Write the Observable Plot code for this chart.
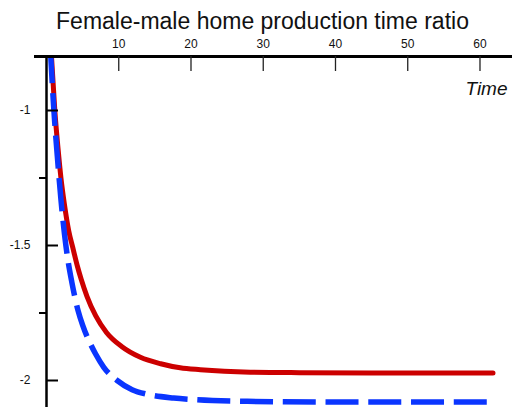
<!DOCTYPE html>
<html>
<head>
<meta charset="utf-8">
<script src="https://cdn.jsdelivr.net/npm/d3@7"></script>
<script src="https://cdn.jsdelivr.net/npm/@observablehq/plot@0.6"></script>
<style>
  html, body { margin: 0; padding: 0; background: white; }
  #title {
    width: 512px; height: 36px; box-sizing: border-box;
    padding-top: 10px; padding-left: 13px;
    font: 23px "Liberation Sans", Arial, sans-serif; line-height: 23px;
    text-align: center; color: #111; white-space: nowrap;
  }
  #chart svg { display: block; }
</style>
</head>
<body>
<div id="title"></div>
<div id="chart"></div>
<script>
// ---- data ----
const titleText = "Female-male home production time ratio";
const xLabel = "Time";
const xTicks = [10, 20, 30, 40, 50, 60];
const yMajorTicks = [-1, -1.5, -2];
const yMinorTicks = [-1.25, -1.75];
const xDomain = [0, 64.5];
const yDomain = [-2.1, -0.8];

const tRed = [0, 0.7, 1.15, 1.6, 2.0, 2.5, 3.08, 3.64, 4.25, 4.8, 5.6, 6.8, 8.3, 10.4, 13.0, 15.8, 18.5, 21.3, 28.2, 35, 45, 61.8];
const vRed = [-0.38, -0.804, -1.0, -1.142, -1.25, -1.351, -1.446, -1.508, -1.574, -1.625, -1.688, -1.760, -1.822, -1.874, -1.914, -1.938, -1.953, -1.960, -1.969, -1.971, -1.972, -1.972];

const tBlue = [0, 0.6, 1.0, 1.5, 2.0, 2.5, 3.0, 3.5, 4.38, 5.0, 6.0, 6.78, 7.93, 9.78, 11.85, 13.93, 17.6, 20.8, 27.8, 39.7, 61.8];
const vBlue = [-0.46, -0.804, -0.99, -1.17, -1.33, -1.46, -1.56, -1.635, -1.742, -1.795, -1.86, -1.901, -1.951, -2.0, -2.034, -2.051, -2.065, -2.071, -2.077, -2.080, -2.080];

document.getElementById("title").textContent = titleText;

const redRows = tRed.map((t, i) => ({t, v: vRed[i]}));
const blueRows = tBlue.map((t, i) => ({t, v: vBlue[i]}));

const W = 512, H = 374;
const mTop = 20, mBottom = 3, mLeft = 46, mRight = 0;
const frameW = W - mLeft - mRight;
const frameH = H - mTop - mBottom;

const chart = Plot.plot({
  width: W,
  height: H,
  marginTop: mTop,
  marginBottom: mBottom,
  marginLeft: mLeft,
  marginRight: mRight,
  style: {fontFamily: '"Liberation Sans", Arial, sans-serif', background: "white", color: "#111"},
  x: {domain: xDomain, axis: null},
  y: {domain: yDomain, axis: null},
  marks: [
    // data lines
    Plot.line(redRows, {x: "t", y: "v", stroke: "#cc0000", strokeWidth: 5, curve: "monotone-x", clip: true}),
    Plot.line(blueRows, {x: "t", y: "v", stroke: "#0a35ff", strokeWidth: 5.5, strokeDasharray: "33,9.75", strokeLinecap: "butt", curve: "monotone-x", clip: true}),
    // y axis line
    Plot.ruleX([xDomain[0]], {stroke: "#000", strokeWidth: 2.5}),
    // x axis line (top)
    Plot.ruleY([yDomain[1]], {stroke: "#000", strokeWidth: 3, insetLeft: -12}),
    // x ticks pointing down into the plot
    Plot.ruleX(xTicks, {stroke: "#222", strokeWidth: 1.3, insetBottom: frameH - 15}),
    // y major ticks pointing inward
    Plot.ruleY(yMajorTicks, {stroke: "#000", strokeWidth: 2, insetRight: frameW - 12}),
    // y minor ticks pointing outward
    Plot.ruleY(yMinorTicks, {stroke: "#000", strokeWidth: 2, insetLeft: -7, insetRight: frameW}),
    // tick labels
    Plot.axisX({anchor: "top", ticks: xTicks, tickSize: 0, tickPadding: 9, tickFormat: d => String(d), fontSize: 12, label: null}),
    Plot.axisY({anchor: "left", ticks: yMajorTicks, tickSize: 0, tickPadding: 16, tickFormat: d => String(d), fontSize: 12, label: null}),
    // axis title
    Plot.text([xLabel], {frameAnchor: "top-right", dx: -5, dy: 32, text: d => d, fontStyle: "italic", fontSize: 19, textAnchor: "end", lineAnchor: "middle", fill: "#111"})
  ]
});
document.getElementById("chart").appendChild(chart);
</script>
</body>
</html>
